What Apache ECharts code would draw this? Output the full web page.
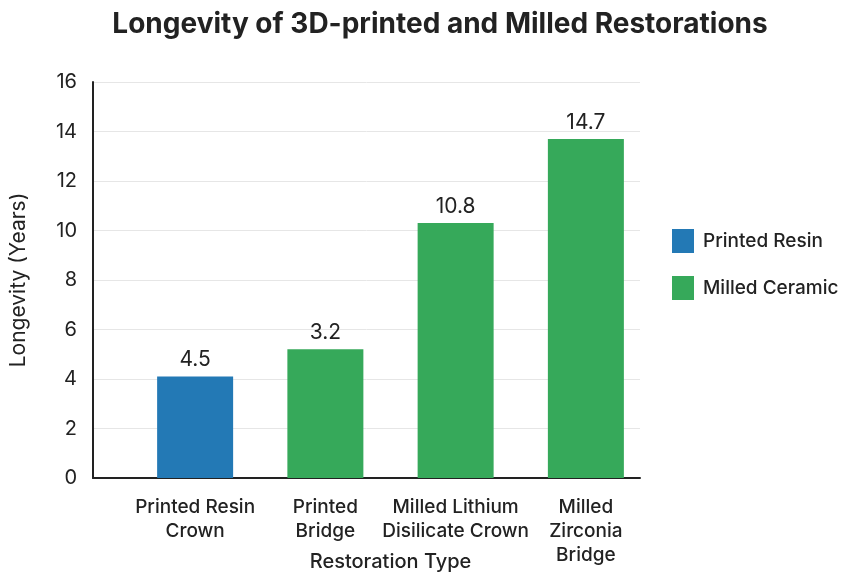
<!DOCTYPE html>
<html>
<head>
<meta charset="utf-8">
<script src="https://cdn.jsdelivr.net/npm/echarts@6/dist/echarts.min.js"></script>
<style>
  html, body { margin: 0; padding: 0; background: #fff; }
  #chart { width: 842px; height: 577px; }
</style>
</head>
<body>
<div id="chart"></div>
<script>
// categories and values
const categories = ['Printed Resin\nCrown', 'Printed\nBridge', 'Milled Lithium\nDisilicate Crown', 'Milled\nZirconia\nBridge']
const resinValues = [4.1, null, null, null]
const ceramicValues = [null, 5.2, 10.3, 13.7]
// the value labels printed above the bars (they differ from the bar heights)
const labelTexts = ['4.5', '3.2', '10.8', '14.7']
const yTicks = [0, 2, 4, 6, 8, 10, 12, 14, 16]

const blue = '#2379b5'
const green = '#36a95a'
const dark = '#222'
const font = 'Inter, "Noto Sans", sans-serif'

let myCharts = echarts.init(document.getElementById('chart'))

let barLabel = {
    show: true,
    position: 'top',
    distance: 6,
    color: dark,
    fontSize: 21,
    fontFamily: font,
    formatter: p => labelTexts[p.dataIndex]
}

let option = {
    animation: false,
    title: {
        text: 'Longevity of 3D-printed and Milled Restorations',
        left: 435,
        textAlign: 'center',
        top: 6,
        textStyle: { fontSize: 28, fontWeight: 700, color: dark, fontFamily: font }
    },
    legend: {
        orient: 'vertical',
        left: 667,
        top: 224,
        itemWidth: 22,
        itemHeight: 24,
        itemGap: 23,
        icon: 'rect',
        textStyle: { fontSize: 19, fontWeight: 500, color: dark, fontFamily: font, padding: [0, 0, 0, 4] },
        data: ['Printed Resin', 'Milled Ceramic']
    },
    grid: [
        // frame: axes + split lines
        { left: 93, right: 202, top: 82, bottom: 99, outerBoundsMode: 'none' },
        // bars
        { left: 130, right: 191, top: 82, bottom: 99, outerBoundsMode: 'none' }
    ],
    xAxis: [
        {
            gridIndex: 0,
            type: 'category',
            data: [''],
            axisLine: { lineStyle: { color: dark, width: 2 } },
            axisTick: { show: false },
            axisLabel: { show: false }
        },
        {
            gridIndex: 1,
            type: 'category',
            data: categories,
            axisLine: { show: false },
            axisTick: { show: false },
            axisLabel: {
                color: dark,
                fontSize: 19,
                fontFamily: font,
                fontWeight: 500,
                lineHeight: 24,
                margin: 17,
                interval: 0
            },
            name: 'Restoration Type',
            nameLocation: 'middle',
            nameGap: 74,
            nameMoveOverlap: false,
            nameTextStyle: { fontSize: 20, fontWeight: 500, color: dark, fontFamily: font }
        }
    ],
    yAxis: [
        {
            gridIndex: 0,
            type: 'value',
            min: yTicks[0],
            max: yTicks[yTicks.length - 1],
            interval: 2,
            axisLine: { show: true, lineStyle: { color: dark, width: 2 } },
            axisTick: { show: false },
            axisLabel: { color: dark, fontSize: 20, fontFamily: font, margin: 16 },
            splitLine: { lineStyle: { color: '#e6e6e6', width: 1 } },
            name: 'Longevity (Years)',
            nameLocation: 'middle',
            nameGap: 64,
            nameTextStyle: { fontSize: 21, color: dark, fontFamily: font }
        },
        {
            gridIndex: 1,
            type: 'value',
            min: yTicks[0],
            max: yTicks[yTicks.length - 1],
            show: false
        }
    ],
    series: [
        {
            name: 'Printed Resin',
            type: 'bar',
            xAxisIndex: 1,
            yAxisIndex: 1,
            stack: 'all',
            barWidth: 76,
            itemStyle: { color: blue },
            label: barLabel,
            data: resinValues
        },
        {
            name: 'Milled Ceramic',
            type: 'bar',
            xAxisIndex: 1,
            yAxisIndex: 1,
            stack: 'all',
            barWidth: 76,
            itemStyle: { color: green },
            label: barLabel,
            data: ceramicValues
        }
    ]
}

myCharts.setOption(option)
</script>
</body>
</html>
